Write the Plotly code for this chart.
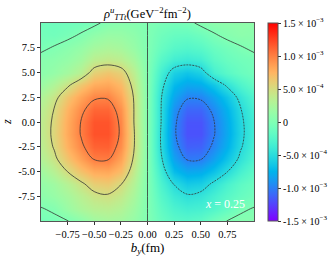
import numpy as np
import plotly.graph_objects as go

# transverse position b_y (fm) and z grid
by_vals = [-1.0, -0.875, -0.75, -0.625, -0.5, -0.375, -0.25, -0.125, 0.0,
           0.125, 0.25, 0.375, 0.5, 0.625, 0.75, 0.875, 1.0]
z_vals = [-10.0, -8.75, -7.5, -6.25, -5.0, -3.75, -2.5, -1.25, 0.0,
          1.25, 2.5, 3.75, 5.0, 6.25, 7.5, 8.75, 10.0]

# density, in units of 1e-4 GeV^-2 fm^-2 (rows follow z_vals)
rho_e4 = [
    [-0.5, -0.42, -0.05, 0.8, 1.9, 2.3, 2.1, 1.3, 0, -1.3, -2.1, -2.3, -1.9, -0.8, 0.05, 0.42, 0.5],
    [-0.1, 0.3, 1.6, 2.6, 3.3, 3.5, 3.0, 1.8, 0, -1.8, -3.0, -3.5, -3.3, -2.6, -1.6, -0.3, 0.1],
    [0.8, 1.4, 2.3, 3.4, 4.4, 4.75, 4.0, 2.4, 0, -2.4, -4.0, -4.75, -4.4, -3.4, -2.3, -1.4, -0.8],
    [1.2, 1.9, 3.2, 4.6, 6.0, 6.3, 5.1, 3.0, 0, -3.0, -5.1, -6.3, -6.0, -4.6, -3.2, -1.9, -1.2],
    [1.9, 3.2, 5.05, 6.7, 7.9, 8.1, 7.0, 3.8, 0, -3.8, -7.0, -8.1, -7.9, -6.7, -5.05, -3.2, -1.9],
    [2.9, 4.5, 6.7, 8.5, 10.1, 10.2, 8.4, 4.6, 0, -4.6, -8.4, -10.2, -10.1, -8.5, -6.7, -4.5, -2.9],
    [3.4, 5.2, 7.7, 9.6, 11.2, 11.3, 9.3, 5.05, 0, -5.05, -9.3, -11.3, -11.2, -9.6, -7.7, -5.2, -3.4],
    [3.6, 5.5, 8.1, 10.1, 11.9, 11.9, 9.7, 5.1, 0, -5.1, -9.7, -11.9, -11.9, -10.1, -8.1, -5.5, -3.6],
    [3.6, 5.4, 8.0, 10.05, 11.8, 11.8, 9.6, 4.9, 0, -4.9, -9.6, -11.8, -11.8, -10.05, -8.0, -5.4, -3.6],
    [3.3, 5.1, 7.6, 9.5, 11.1, 11.1, 9.2, 4.9, 0, -4.9, -9.2, -11.1, -11.1, -9.5, -7.6, -5.1, -3.3],
    [2.7, 4.3, 6.6, 8.3, 9.7, 9.8, 8.2, 4.8, 0, -4.8, -8.2, -9.8, -9.7, -8.3, -6.6, -4.3, -2.7],
    [1.6, 2.8, 4.6, 6.5, 7.9, 8.2, 7.2, 4.3, 0, -4.3, -7.2, -8.2, -7.9, -6.5, -4.6, -2.8, -1.6],
    [0.75, 1.3, 2.2, 3.4, 5.9, 6.6, 5.9, 3.5, 0, -3.5, -5.9, -6.6, -5.9, -3.4, -2.2, -1.3, -0.75],
    [0.55, 0.8, 1.3, 2.1, 3.6, 4.0, 3.6, 2.3, 0, -2.3, -3.6, -4.0, -3.6, -2.1, -1.3, -0.8, -0.55],
    [-0.35, 0.15, 0.7, 1.3, 2.2, 2.6, 2.3, 1.4, 0, -1.4, -2.3, -2.6, -2.2, -1.3, -0.7, -0.15, 0.35],
    [-0.7, -0.8, -0.4, 0.2, 1.0, 1.5, 1.4, 0.9, 0, -0.9, -1.4, -1.5, -1.0, -0.2, 0.4, 0.8, 0.7],
    [-0.9, -1.0, -0.9, -0.8, -0.35, 0.4, 0.6, 0.4, 0, -0.4, -0.6, -0.4, 0.35, 0.8, 0.9, 1.0, 0.9],
]
unit = 1e-4

x_tickvals = [-0.75, -0.5, -0.25, 0.0, 0.25, 0.5, 0.75]
x_ticktext = ["\u22120.75", "\u22120.50", "\u22120.25", "0.00", "0.25", "0.50", "0.75"]
y_tickvals = [-7.5, -5.0, -2.5, 0.0, 2.5, 5.0, 7.5]
y_ticktext = ["-7.5", "-5.0", "-2.5", "0.0", "2.5", "5.0", "7.5"]
cb_tickvals = [-1.5e-3, -1.0e-3, -5.0e-4, 0.0, 5.0e-4, 1.0e-3, 1.5e-3]
cb_ticktext = ["-1.5 \u00d7 10<sup>\u22123</sup>", "-1.0 \u00d7 10<sup>\u22123</sup>",
               "-5.0 \u00d7 10<sup>\u22124</sup>", "0",
               "5.0 \u00d7 10<sup>\u22124</sup>", "1.0 \u00d7 10<sup>\u22123</sup>",
               "1.5 \u00d7 10<sup>\u22123</sup>"]
zlim = 1.5e-3

Z = np.array(rho_e4) * unit

# matplotlib-like "rainbow" colormap
def rainbow(t):
    r = min(1.0, abs(2 * t - 0.5))
    g = np.sin(np.pi * t)
    b = np.cos(np.pi * t / 2)
    return "rgb(%d,%d,%d)" % (round(255 * r), round(255 * g), round(255 * max(b, 0)))

cscale = [[t, rainbow(t)] for t in np.linspace(0, 1, 41)]

SERIF = "Liberation Serif, Times New Roman, serif"

fig = go.Figure()
fig.add_trace(go.Heatmap(
    x=by_vals, y=z_vals, z=Z, zmin=-zlim, zmax=zlim, zsmooth="best",
    colorscale=cscale, showlegend=False, hoverinfo="skip",
    colorbar=dict(
        thickness=10, len=1, lenmode="fraction", x=1.0657, xanchor="left",
        xpad=0, ypad=0, y=0.5, yanchor="middle",
        outlinewidth=1, outlinecolor="#555",
        ticks="outside", ticklen=3, tickcolor="#333",
        tickvals=cb_tickvals, ticktext=cb_ticktext,
        tickfont=dict(family=SERIF, size=10, color="black"),
    ),
))
# positive and zero contours (solid)
fig.add_trace(go.Contour(
    x=by_vals, y=z_vals, z=Z, autocontour=False,
    contours=dict(start=0.0, end=1.0e-3, size=5.0e-4, coloring="none"),
    line=dict(color="#333", width=0.8, smoothing=1),
    showscale=False, showlegend=False, hoverinfo="skip",
))
# negative contours (finely dashed)
fig.add_trace(go.Contour(
    x=by_vals, y=z_vals, z=Z, autocontour=False,
    contours=dict(start=-1.0e-3, end=-5.0e-4, size=5.0e-4, coloring="none"),
    line=dict(color="#333", width=0.8, smoothing=1, dash="2px,1px"),
    showscale=False, showlegend=False, hoverinfo="skip",
))

axis_common = dict(
    showgrid=False, zeroline=False, showline=True, mirror=True,
    linecolor="#555", linewidth=1, ticks="outside", ticklen=3, tickcolor="#333",
    tickangle=0, automargin=False,
    tickfont=dict(family=SERIF, size=10.5, color="black"),
)
fig.update_layout(
    width=335, height=259,
    margin=dict(l=41, r=81, t=23, b=38, autoexpand=False),
    paper_bgcolor="white", plot_bgcolor="white",
    showlegend=False,
    title=dict(
        text="<i>\u03c1</i><sup><i>u</i></sup><sub><i>TTt</i></sub>(GeV<sup>\u22122</sup>fm<sup>\u22122</sup>)",
        x=0.44, xanchor="center", y=0.948, yanchor="middle",
        font=dict(family=SERIF, size=12.5, color="black"),
    ),
    xaxis=dict(range=[-1, 1], tickvals=x_tickvals, ticktext=x_ticktext,
               title=dict(text="<i>b</i><sub><i>y</i></sub>(fm)", standoff=2,
                          font=dict(family=SERIF, size=13, color="black")),
               **axis_common),
    yaxis=dict(range=[-10, 10], tickvals=y_tickvals, ticktext=y_ticktext,
               **axis_common),
    annotations=[
        dict(x=0.73, y=-8.3, xref="x", yref="y", showarrow=False,
             text="<i>x</i> = 0.25",
             font=dict(family=SERIF, size=12, color="white")),
        dict(x=-0.16, y=0.5, xref="paper", yref="paper", showarrow=False,
             text="<i>z</i>", textangle=-90, xanchor="center", yanchor="middle",
             font=dict(family=SERIF, size=12, color="black")),
    ],
)

fig.write_html("out.html", config={"displayModeBar": False},
               post_script="document.body.style.margin='0px';")
